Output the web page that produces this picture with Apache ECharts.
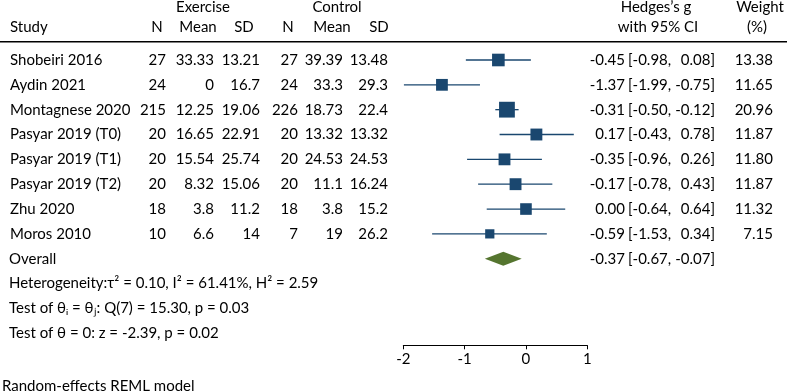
<!DOCTYPE html>
<html>
<head>
<meta charset="utf-8">
<script src="https://cdn.jsdelivr.net/npm/echarts@6/dist/echarts.min.js"></script>
<style>
  html, body { margin: 0; padding: 0; background: #fff; }
  #chart { width: 788px; height: 392px; }
</style>
</head>
<body>
<div id="chart"></div>
<script>
// study data
const studies = ['Shobeiri 2016', 'Aydin 2021', 'Montagnese 2020', 'Pasyar 2019 (T0)',
  'Pasyar 2019 (T1)', 'Pasyar 2019 (T2)', 'Zhu 2020', 'Moros 2010'];
const exN = [27, 24, 215, 20, 20, 20, 18, 10];
const exMean = [33.33, 0, 12.25, 16.65, 15.54, 8.32, 3.8, 6.6];
const exSD = [13.21, 16.7, 19.06, 22.91, 25.74, 15.06, 11.2, 14];
const ctN = [27, 24, 226, 20, 20, 20, 18, 7];
const ctMean = [39.39, 33.3, 18.73, 13.32, 24.53, 11.1, 3.8, 19];
const ctSD = [13.48, 29.3, 22.4, 13.32, 24.53, 16.24, 15.2, 26.2];
const hedgesG = [-0.45, -1.37, -0.31, 0.17, -0.35, -0.17, 0.00, -0.59];
const ciLow = [-0.98, -1.99, -0.50, -0.43, -0.96, -0.78, -0.64, -1.53];
const ciHigh = [0.08, -0.75, -0.12, 0.78, 0.26, 0.43, 0.64, 0.34];
const weight = [13.38, 11.65, 20.96, 11.87, 11.80, 11.87, 11.32, 7.15];
// overall: estimate, low, high
const overall = [-0.37, -0.67, -0.07];
const xTicks = [-2, -1, 0, 1];
const footnotes = [
  'Heterogeneity:\u03c4\u00b2 = 0.10, I\u00b2 = 61.41%, H\u00b2 = 2.59',
  'Test of \u03b8\u1d62 = \u03b8\u2c7c: Q(7) = 15.30, p = 0.03',
  'Test of \u03b8 = 0: z = -2.39, p = 0.02'
];
const modelNote = 'Random-effects REML model';

const FONT = 'Lato, "Open Sans", sans-serif';
const FS = 15;
const NAVY = '#1a476f';
const GREEN = '#55752f';

// table cells: x in pixels of the full-width text grid, row index on shared y scale
const cells = [];
const add = (x, row, text, align) => cells.push({ x, row, text: String(text), align });

add(203, -2.13, 'Exercise', 'center');
add(337, -2.13, 'Control', 'center');
add(656, -2.13, 'Hedges\u2019s g', 'center');
add(760, -2.13, 'Weight', 'center');
add(10, -1.33, 'Study', 'left');
add(157, -1.33, 'N', 'center');
add(198, -1.33, 'Mean', 'center');
add(244, -1.33, 'SD', 'center');
add(288, -1.33, 'N', 'center');
add(332, -1.33, 'Mean', 'center');
add(379, -1.33, 'SD', 'center');
add(658, -1.33, 'with 95% CI', 'center');
add(757, -1.33, '(%)', 'center');

studies.forEach((s, i) => {
  add(10, i, s, 'left');
  add(166, i, exN[i], 'right');
  add(214, i, exMean[i], 'right');
  add(260, i, exSD[i], 'right');
  add(298, i, ctN[i], 'right');
  add(343, i, ctMean[i], 'right');
  add(388, i, ctSD[i], 'right');
  add(625, i, hedgesG[i].toFixed(2), 'right');
  add(628, i, '[' + ciLow[i].toFixed(2) + ',', 'left');
  add(715, i, ciHigh[i].toFixed(2) + ']', 'right');
  add(773, i, weight[i].toFixed(2), 'right');
});
add(9, 8, 'Overall', 'left');
add(625, 8, overall[0].toFixed(2), 'right');
add(628, 8, '[' + overall[1].toFixed(2) + ',', 'left');
add(715, 8, overall[2].toFixed(2) + ']', 'right');
footnotes.forEach((t, i) => add(9, 9 + i, t, 'left'));
add(2, 13.12, modelNote, 'left');

const chart = echarts.init(document.getElementById('chart'), null, { renderer: 'canvas' });

chart.setOption({
  animation: false,
  backgroundColor: '#fff',
  grid: [
    { left: 403.3, width: 184, top: 0, height: 345.3, containLabel: false },
    { left: 0, width: 788, top: 0, height: 392, containLabel: false }
  ],
  xAxis: [
    {
      type: 'value', gridIndex: 0, min: -2, max: 1, interval: 1,
      splitLine: { show: false },
      axisLine: { show: true, onZero: false, lineStyle: { color: '#000', width: 1 } },
      axisTick: { show: true, length: 4, lineStyle: { color: '#000' } },
      axisLabel: {
        margin: 6, color: '#000', fontSize: FS, fontFamily: FONT,
        customValues: xTicks, formatter: (v) => String(v)
      }
    },
    { type: 'value', gridIndex: 1, min: 0, max: 788, show: false }
  ],
  yAxis: [
    { type: 'value', gridIndex: 0, min: -2.415, max: 11.486, inverse: true, show: false },
    { type: 'value', gridIndex: 1, min: -2.415, max: 13.366, inverse: true, show: false }
  ],
  series: [
    {
      // study effect sizes: CI line + weighted square
      type: 'custom',
      xAxisIndex: 0, yAxisIndex: 0,
      data: studies.map((s, i) => [hedgesG[i], i, ciLow[i], ciHigh[i], weight[i]]),
      encode: { x: 0, y: 1 },
      renderItem: (params, api) => {
        const row = api.value(1);
        const c = api.coord([api.value(0), row]);
        const a = api.coord([api.value(2), row]);
        const b = api.coord([api.value(3), row]);
        const s = 3.45 * Math.sqrt(api.value(4));
        return {
          type: 'group',
          children: [
            { type: 'line', shape: { x1: a[0], y1: a[1], x2: b[0], y2: b[1] },
              style: { stroke: NAVY, lineWidth: 1.3 } },
            { type: 'rect', shape: { x: c[0] - s / 2, y: c[1] - s / 2, width: s, height: s },
              style: { fill: NAVY } }
          ]
        };
      }
    },
    {
      // overall diamond
      type: 'custom',
      xAxisIndex: 0, yAxisIndex: 0,
      data: [[overall[0], 8, overall[1], overall[2]]],
      encode: { x: 0, y: 1 },
      renderItem: (params, api) => {
        const row = api.value(1);
        const c = api.coord([api.value(0), row]);
        const a = api.coord([api.value(2), row]);
        const b = api.coord([api.value(3), row]);
        const h = 7;
        return {
          type: 'polygon',
          shape: { points: [[a[0], a[1]], [c[0], c[1] - h], [b[0], b[1]], [c[0], c[1] + h]] },
          style: { fill: GREEN }
        };
      }
    },
    {
      // table text
      type: 'custom',
      xAxisIndex: 1, yAxisIndex: 1,
      data: cells.map((c) => [c.x, c.row]),
      encode: { x: 0, y: 1 },
      renderItem: (params, api) => {
        const cell = cells[params.dataIndex];
        const p = api.coord([api.value(0), api.value(1)]);
        return {
          type: 'text', x: p[0], y: p[1],
          style: {
            text: cell.text, align: cell.align, verticalAlign: 'middle',
            fontSize: FS, fontFamily: FONT, fill: '#000'
          }
        };
      }
    },
    {
      // header rule
      type: 'custom',
      xAxisIndex: 1, yAxisIndex: 1,
      data: [[0, -0.737, 787]],
      encode: { x: 0, y: 1 },
      renderItem: (params, api) => {
        const a = api.coord([api.value(0), api.value(1)]);
        const b = api.coord([api.value(2), api.value(1)]);
        return { type: 'line', shape: { x1: a[0], y1: a[1], x2: b[0], y2: b[1] },
          style: { stroke: '#000', lineWidth: 1.5 } };
      }
    }
  ]
});
</script>
</body>
</html>
